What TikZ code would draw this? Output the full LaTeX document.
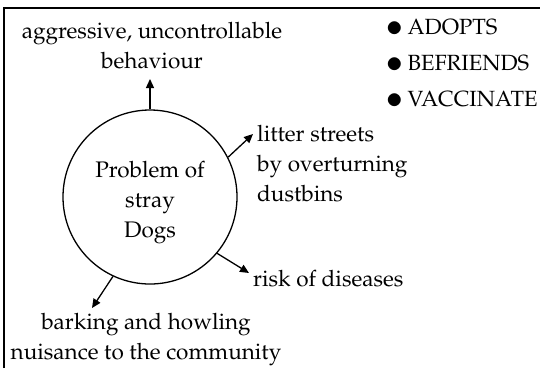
\documentclass[tikz,border=0pt]{standalone}
\usepackage[T1]{fontenc}
\usepackage{mathpazo}
\usepackage{graphicx}
\usetikzlibrary{arrows.meta}
\newcommand{\bigdot}{\raisebox{-2pt}{\scalebox{1.45}{$\bullet$}}\hspace{4pt}}
\begin{document}
\begin{tikzpicture}[x=1pt,y=-1pt,
  lbl/.style={inner sep=0pt,font=\fontsize{22.5}{30}\selectfont},
  arr/.style={line width=1.3pt,-{Triangle[length=9pt,width=8pt]}},
  frame/.style={line width=1.4pt}]
\useasboundingbox (0,0) rectangle (540,368);
\draw[frame] (4,368) -- (4,8) -- (540,8);
\node[circle,draw,line width=1.3pt,minimum size=174pt,inner sep=0pt] (c) at (150,197) {};
\node[lbl,align=center] (ct) at (150,203) {Problem of\\stray\\Dogs};
\node[lbl,align=center] (agg) at (152,46) {aggressive, uncontrollable\\behaviour};
\node[lbl,align=left,anchor=west] (lit) at (257,164) {litter streets\\by overturning\\dustbins};
\node[lbl,anchor=west] (risk) at (253,279) {risk of diseases};
\node[lbl,align=center] (bark) at (146,340) {barking and howling\\nuisance to the community};
\node[lbl,anchor=west,font=\fontsize{22}{30}\selectfont] (b1) at (386,28) {\bigdot ADOPTS};
\node[lbl,anchor=west,font=\fontsize{22}{30}\selectfont] (b2) at (386,64) {\bigdot BEFRIENDS};
\node[lbl,anchor=west,font=\fontsize{22}{30}\selectfont] (b3) at (386,100) {\bigdot VACCINATE};
\coordinate (t1) at (150,79);
\coordinate (t2) at (253,134);
\coordinate (t3) at (249,273);
\coordinate (t4) at (92,308);
\draw[arr] (c.90) -- (t1);
\draw[arr] (c.27) -- (t2);
\draw[arr] (c.-40) -- (t3);
\draw[arr] (c.-115) -- (t4);
\end{tikzpicture}
\end{document}
